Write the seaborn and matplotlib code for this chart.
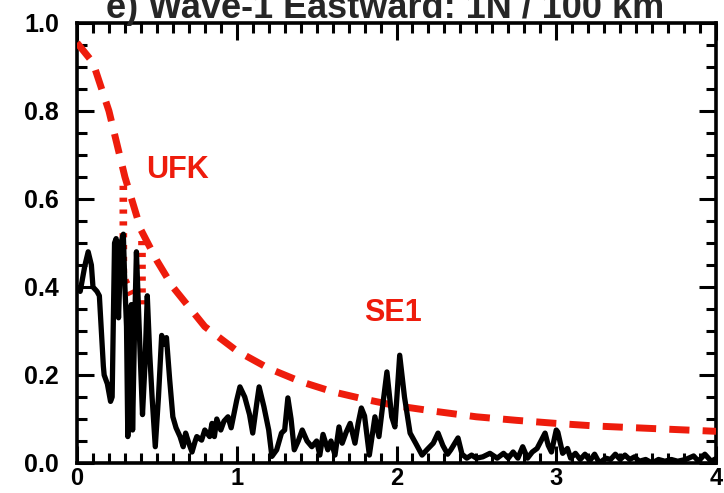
import matplotlib
matplotlib.use("Agg")
import matplotlib.pyplot as plt
import seaborn as sns
import pandas as pd
from matplotlib.ticker import MultipleLocator

# Observed spectrum (frequency, amplitude)
freq = [0.0, 0.02, 0.05, 0.07, 0.09, 0.10, 0.125, 0.14, 0.165, 0.17, 0.19, 0.21, 0.22,
        0.235, 0.245, 0.26, 0.275, 0.29, 0.30, 0.31, 0.318, 0.33, 0.34, 0.348, 0.36,
        0.372, 0.38, 0.395, 0.41, 0.425, 0.44, 0.455, 0.47, 0.49, 0.51, 0.53, 0.545,
        0.56, 0.58, 0.60, 0.62, 0.645, 0.665, 0.68, 0.70, 0.72, 0.74, 0.75, 0.78, 0.80,
        0.83, 0.845, 0.86, 0.875, 0.90, 0.92, 0.945, 0.965, 1.0, 1.02, 1.05, 1.08, 1.10,
        1.125, 1.14, 1.17, 1.20, 1.22, 1.25, 1.28, 1.30, 1.32, 1.34, 1.36, 1.385, 1.41,
        1.44, 1.47, 1.50, 1.52, 1.54, 1.57, 1.59, 1.615, 1.64, 1.66, 1.685, 1.71, 1.74,
        1.76, 1.78, 1.80, 1.83, 1.865, 1.89, 1.91, 1.94, 1.97, 1.99, 2.02, 2.05, 2.085,
        2.12, 2.16, 2.19, 2.23, 2.26, 2.29, 2.32, 2.34, 2.385, 2.41, 2.44, 2.47, 2.50,
        2.54, 2.585, 2.63, 2.67, 2.70, 2.73, 2.76, 2.79, 2.82, 2.85, 2.88, 2.93, 2.95,
        2.97, 3.00, 3.01, 3.04, 3.07, 3.09, 3.12, 3.15, 3.18, 3.21, 3.24, 3.27, 3.31,
        3.34, 3.37, 3.40, 3.43, 3.46, 3.49, 3.52, 3.56, 3.60, 3.64, 3.68, 3.72, 3.76,
        3.81, 3.86, 3.89, 3.93, 3.97, 4.0]
amp = [0.40, 0.39, 0.45, 0.48, 0.45, 0.40, 0.39, 0.38, 0.22, 0.20, 0.18, 0.14, 0.15,
       0.50, 0.51, 0.33, 0.50, 0.52, 0.40, 0.31, 0.06, 0.20, 0.36, 0.075, 0.30,
       0.48, 0.40, 0.25, 0.11, 0.22, 0.38, 0.25, 0.15, 0.037, 0.15, 0.29, 0.27,
       0.285, 0.19, 0.105, 0.08, 0.06, 0.037, 0.068, 0.045, 0.025, 0.05, 0.06, 0.052, 0.075,
       0.06, 0.09, 0.06, 0.10, 0.075, 0.095, 0.105, 0.08, 0.143, 0.173, 0.15, 0.11, 0.068,
       0.135, 0.173, 0.128, 0.075, 0.015, 0.03, 0.068, 0.075, 0.148, 0.10, 0.03, 0.05, 0.075,
       0.05, 0.037, 0.05, 0.018, 0.065, 0.03, 0.05, 0.018, 0.082, 0.045, 0.07, 0.09, 0.045,
       0.09, 0.125, 0.107, 0.018, 0.105, 0.06, 0.12, 0.207, 0.105, 0.082, 0.245, 0.15, 0.068,
       0.045, 0.018, 0.03, 0.045, 0.068, 0.04, 0.02, 0.03, 0.057, 0.02, 0.011, 0.018, 0.011,
       0.014, 0.022, 0.011, 0.022, 0.011, 0.025, 0.011, 0.037, 0.011, 0.025, 0.033, 0.068, 0.04,
       0.025, 0.075, 0.07, 0.022, 0.033, 0.011, 0.022, 0.008, 0.02, 0.005, 0.02, 0.0, 0.011,
       0.008, 0.02, 0.008, 0.018, 0.008, 0.014, 0.004, 0.008, 0.0, 0.008, 0.004, 0.008, 0.004,
       0.008, 0.016, 0.004, 0.02, 0.004, 0.01]

# Theoretical response curve
curve_freq = [0.0, 0.1, 0.2, 0.3, 0.4, 0.5, 0.6, 0.8, 1.0, 1.2, 1.4, 1.6, 1.8, 2.0,
              2.25, 2.5, 2.75, 3.0, 3.25, 3.5, 3.75, 4.0]
curve_amp = [0.955, 0.91, 0.80, 0.65, 0.53, 0.46, 0.40, 0.31, 0.255, 0.215, 0.185,
             0.162, 0.145, 0.13, 0.117, 0.105, 0.097, 0.09, 0.084, 0.08, 0.076, 0.072]

# Dotted markers near the UFK band
mark1_freq = [0.29, 0.29, 0.384]
mark1_amp = [0.63, 0.423, 0.351]
mark2_freq = [0.405, 0.405]
mark2_amp = [0.505, 0.348]

labels = ["UFK", "SE1"]
label_x = [0.63, 1.98]
label_y = [0.665, 0.34]

title = "e) Wave-1 Eastward: 1N / 100 km"

RED = "#ee1c0c"

sns.set_style("ticks")
plt.rcParams["font.family"] = ["Liberation Sans", "DejaVu Sans"]
plt.rcParams["font.weight"] = "bold"

fig = plt.figure(figsize=(7.24, 4.93), dpi=100)
ax = fig.add_axes([77 / 724, 1 - 463 / 493, (716 - 77) / 724, (463 - 23) / 493])

spec = pd.DataFrame({"freq": freq, "amp": amp})
curve = pd.DataFrame({"freq": curve_freq, "amp": curve_amp})
m1 = pd.DataFrame({"freq": mark1_freq, "amp": mark1_amp})
m2 = pd.DataFrame({"freq": mark2_freq, "amp": mark2_amp})

sns.lineplot(data=curve, x="freq", y="amp", ax=ax, color=RED, lw=5,
             estimator=None, sort=False, zorder=3)
ax.lines[-1].set_dashes((2.9, 1.9))
ax.lines[-1].set_dash_capstyle("butt")
for m in (m1, m2):
    sns.lineplot(data=m, x="freq", y="amp", ax=ax, color=RED, lw=5.5,
                 estimator=None, sort=False, zorder=3)
    ax.lines[-1].set_dashes((0.55, 1.0))
    ax.lines[-1].set_dash_capstyle("butt")
sns.lineplot(data=spec, x="freq", y="amp", ax=ax, color="black", lw=3.8,
             estimator=None, sort=False, zorder=4)

for t, xx, yy in zip(labels, label_x, label_y):
    ax.text(xx, yy, t, color=RED, fontsize=22, fontweight="bold",
            ha="center", va="center")

ax.set_xlim(0, 4)
ax.set_ylim(0, 1.0)
ax.set_xlabel("")
ax.set_ylabel("")
ax.xaxis.set_major_locator(MultipleLocator(1))
ax.xaxis.set_minor_locator(MultipleLocator(0.1))
ax.yaxis.set_major_locator(MultipleLocator(0.2))
ax.yaxis.set_minor_locator(MultipleLocator(0.05))
ax.xaxis.set_major_formatter(plt.FuncFormatter(lambda v, p: f"{v:g}"))
ax.yaxis.set_major_formatter(plt.FuncFormatter(lambda v, p: f"{v:.1f}"))

ax.tick_params(which="both", direction="in", top=True, right=True, colors="black")
ax.tick_params(which="major", length=12, width=2.2, labelsize=18)
ax.tick_params(which="minor", length=7, width=2.2)
ax.tick_params(axis="x", which="major", pad=3, labelsize=17)
ax.tick_params(axis="y", which="major", pad=13)
for lab in ax.get_xticklabels() + ax.get_yticklabels():
    lab.set_fontweight("bold")
for s in ax.spines.values():
    s.set_visible(True)
    s.set_linewidth(2.6)
    s.set_color("black")

fig.text(385 / 724, 1 - 18 / 493, title, ha="center", va="baseline",
         fontsize=26, fontweight="bold")

fig.savefig("out.png", dpi=100)
